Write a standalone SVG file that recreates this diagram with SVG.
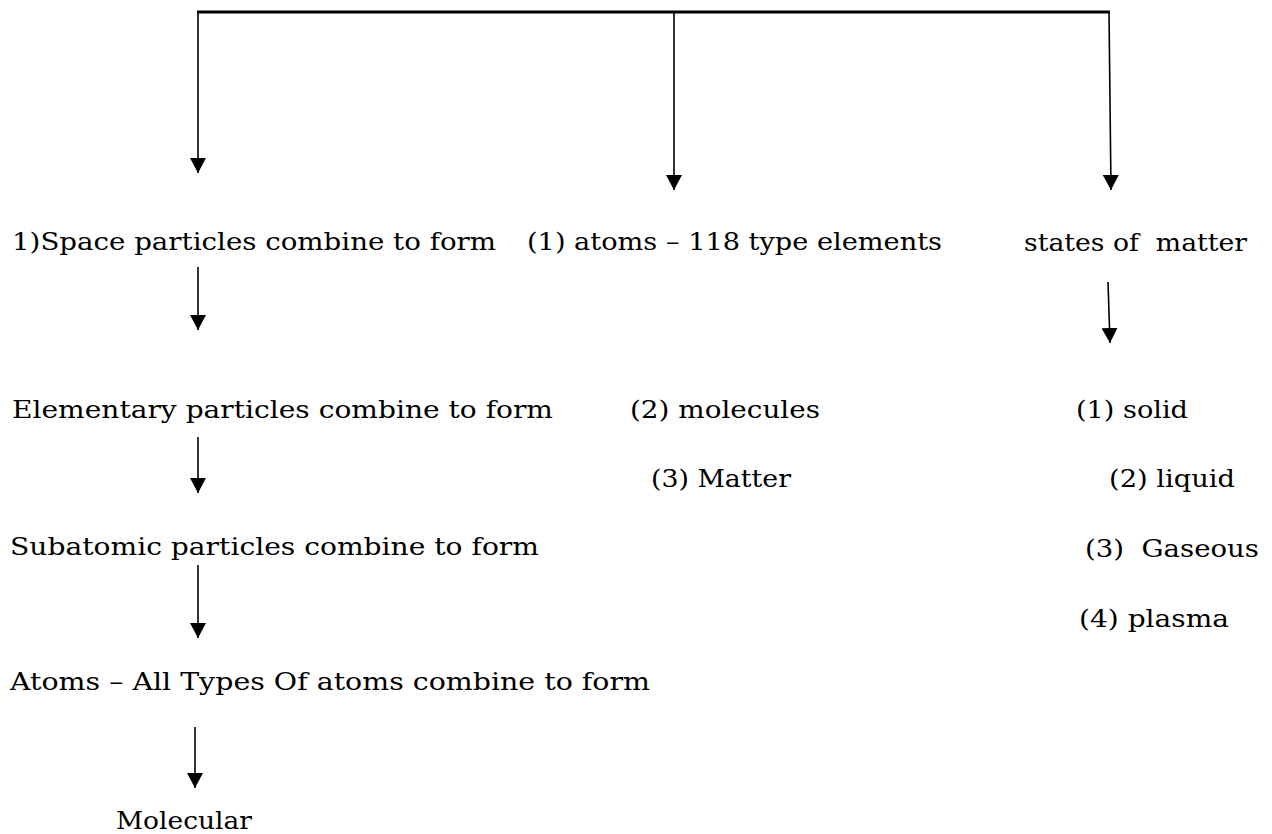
<svg xmlns="http://www.w3.org/2000/svg" width="1272" height="834" viewBox="0 0 1272 834">
<defs>
<marker id="ah" markerUnits="userSpaceOnUse" markerWidth="16" markerHeight="16" refX="15" refY="8" orient="auto">
<path d="M0,0 L15,8 L0,16 z" fill="#000"/>
</marker>
<style>
.t{font-family:"DejaVu Serif","Liberation Serif",serif;font-size:25px;fill:#000;white-space:pre}
.c{stroke:#000;stroke-width:1.6;fill:none;marker-end:url(#ah)}
.bar{stroke:#000;stroke-width:3;fill:none}
</style>
</defs>
<rect width="1272" height="834" fill="#fff"/>
<g id="connectors">
<line class="bar" x1="197" y1="12" x2="1110" y2="12"/>
<line class="c" x1="198" y1="12" x2="198" y2="173"/>
<line class="c" x1="674" y1="12" x2="674" y2="190"/>
<line class="c" x1="1109" y1="12" x2="1111" y2="190"/>
<line class="c" x1="198" y1="267" x2="198" y2="330"/>
<line class="c" x1="1108" y1="282" x2="1110" y2="343"/>
<line class="c" x1="198" y1="437" x2="198" y2="493"/>
<line class="c" x1="198" y1="565" x2="198" y2="638"/>
<line class="c" x1="195" y1="727" x2="195" y2="788"/>
</g>
<g id="n-space"><text class="t" x="12" y="250" textLength="484" lengthAdjust="spacingAndGlyphs">1)Space particles combine to form</text></g>
<g id="n-atoms118"><text class="t" x="527" y="250" textLength="415" lengthAdjust="spacingAndGlyphs">(1) atoms – 118 type elements</text></g>
<g id="n-states"><text class="t" x="1024" y="251" textLength="223" lengthAdjust="spacingAndGlyphs">states of  matter</text></g>
<g id="n-elementary"><text class="t" x="12" y="418" textLength="541" lengthAdjust="spacingAndGlyphs">Elementary particles combine to form</text></g>
<g id="n-molecules"><text class="t" x="630" y="418" textLength="190" lengthAdjust="spacingAndGlyphs">(2) molecules</text></g>
<g id="n-solid"><text class="t" x="1076" y="418" textLength="112" lengthAdjust="spacingAndGlyphs">(1) solid</text></g>
<g id="n-matter"><text class="t" x="651" y="487" textLength="140" lengthAdjust="spacingAndGlyphs">(3) Matter</text></g>
<g id="n-liquid"><text class="t" x="1109" y="487" textLength="126" lengthAdjust="spacingAndGlyphs">(2) liquid</text></g>
<g id="n-subatomic"><text class="t" x="10" y="555" textLength="529" lengthAdjust="spacingAndGlyphs">Subatomic particles combine to form</text></g>
<g id="n-gaseous"><text class="t" x="1085" y="557" textLength="174" lengthAdjust="spacingAndGlyphs">(3)  Gaseous</text></g>
<g id="n-plasma"><text class="t" x="1079" y="627" textLength="150" lengthAdjust="spacingAndGlyphs">(4) plasma</text></g>
<g id="n-atomsall"><text class="t" x="10" y="690" textLength="640" lengthAdjust="spacingAndGlyphs">Atoms – All Types Of atoms combine to form</text></g>
<g id="n-molecular"><text class="t" x="116" y="829" textLength="136" lengthAdjust="spacingAndGlyphs">Molecular</text></g>
</svg>
